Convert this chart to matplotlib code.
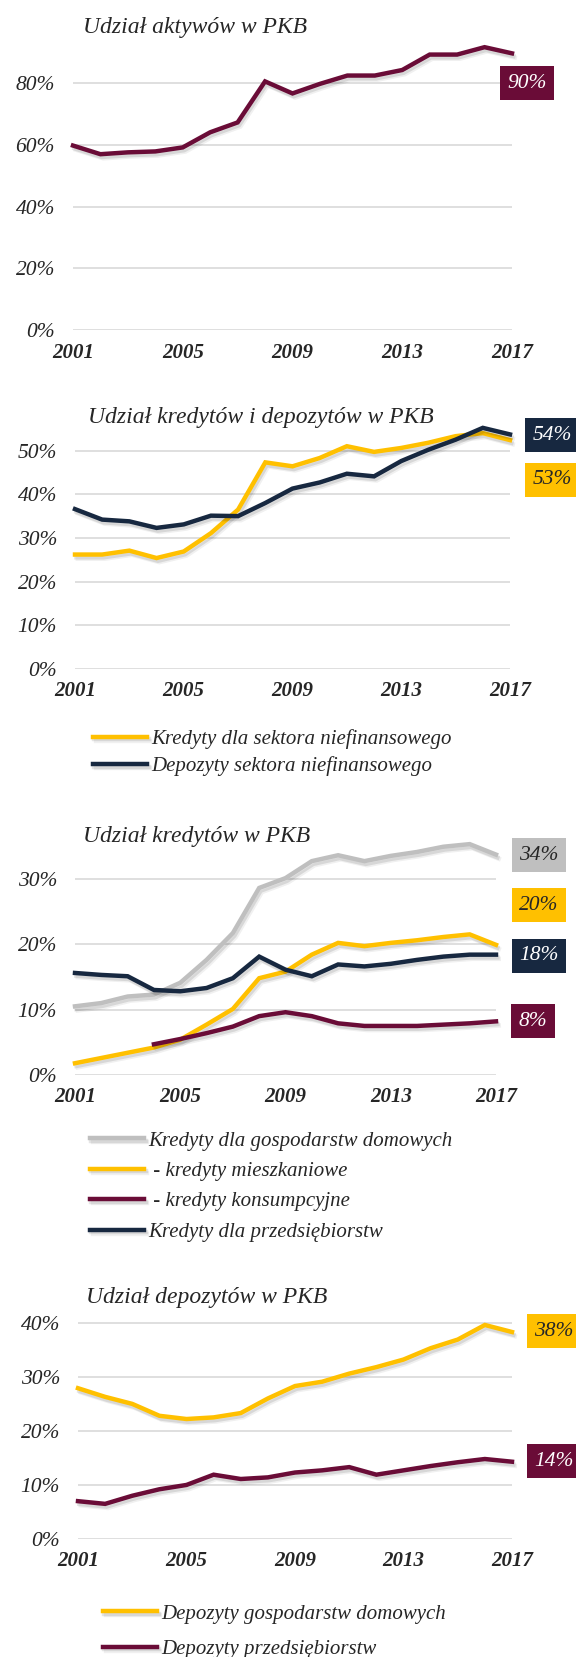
import numpy as np
import matplotlib
matplotlib.use("Agg")
import matplotlib.pyplot as plt
import matplotlib.patheffects as pe

years = list(range(2001, 2018))

# Udzial aktywow w PKB (%)
aktywa = [59.8, 57.0, 57.6, 57.9, 59.2, 64.1, 67.3, 80.6, 76.7, 79.8,
          82.5, 82.5, 84.3, 89.3, 89.3, 91.7, 89.7]

# Udzial kredytow i depozytow w PKB (%)
kredyty_niefin = [26.2, 26.2, 27.1, 25.4, 26.9, 31.1, 36.5, 47.3, 46.4, 48.3,
                  51.0, 49.7, 50.6, 51.8, 53.3, 54.0, 52.4]
depozyty_niefin = [36.6, 34.2, 33.8, 32.3, 33.1, 35.1, 35.0, 38.0, 41.3, 42.7,
                   44.7, 44.1, 47.6, 50.2, 52.5, 55.2, 53.7]

# Udzial kredytow w PKB (%)
kred_gosp = [10.5, 11.0, 12.0, 12.3, 14.1, 17.6, 21.7, 28.6, 30.1, 32.7,
             33.6, 32.7, 33.5, 34.1, 34.9, 35.3, 33.7]
kred_mieszk = [1.8, 2.6, 3.4, 4.2, 5.4, 7.7, 10.1, 14.8, 15.8, 18.4,
               20.2, 19.7, 20.2, 20.6, 21.1, 21.5, 19.9]
years_konsump = list(range(2004, 2018))
kred_konsump = [4.7, 5.5, 6.4, 7.4, 9.0, 9.6, 9.0, 7.9, 7.5, 7.5,
                7.5, 7.7, 7.9, 8.2]
kred_przeds = [15.6, 15.3, 15.1, 13.0, 12.8, 13.3, 14.8, 18.1, 16.1, 15.1,
               16.9, 16.6, 17.0, 17.6, 18.1, 18.4, 18.4]

# Udzial depozytow w PKB (%)
dep_gosp = [27.9, 26.3, 25.0, 22.8, 22.2, 22.5, 23.3, 26.0, 28.3, 29.1,
            30.6, 31.8, 33.2, 35.3, 36.9, 39.6, 38.3]
dep_przeds = [7.0, 6.5, 8.0, 9.2, 10.0, 11.9, 11.1, 11.4, 12.3, 12.7,
              13.3, 11.9, 12.7, 13.5, 14.2, 14.8, 14.3]

xticks = [2001, 2005, 2009, 2013, 2017]

MAROON = "#6A0C37"
NAVY = "#172840"
YELLOW = "#FFC000"
GREY = "#BFBFBF"
TXT = "#262626"

W, H = 576, 1657
fig = plt.figure(figsize=(W / 100, H / 100), dpi=100)
fig.patch.set_facecolor("white")

SERIF = ["Liberation Serif", "DejaVu Serif"]
# soft drop shadow like the original
shadow = [pe.SimpleLineShadow(offset=(1.0, -2.0), shadow_color="black", alpha=0.10),
          pe.SimpleLineShadow(offset=(2.0, -3.0), shadow_color="black", alpha=0.06),
          pe.Normal()]


def px_axes(left, top, right, bottom):
    return fig.add_axes([left / W, 1 - bottom / H, (right - left) / W, (bottom - top) / H])


def style(ax, ymax, yticks):
    ax.set_xlim(2001, 2017)
    ax.set_ylim(0, ymax)
    ax.set_yticks(yticks)
    ax.set_yticklabels([f"{t}%" for t in yticks], family=SERIF, style="italic",
                       fontsize=15.5, color=TXT)
    ax.set_xticks(xticks)
    ax.set_xticklabels([str(t) for t in xticks], family=SERIF, style="italic",
                       fontsize=15, color=TXT, fontweight="bold")
    ax.tick_params(length=0)
    ax.tick_params(axis="y", pad=13)
    ax.tick_params(axis="x", pad=9)
    for s in ax.spines.values():
        s.set_visible(False)
    ax.grid(axis="y", color="#D9D9D9", linewidth=1.2)
    ax.set_axisbelow(True)


def title(x, y, s):
    fig.text(x / W, 1 - y / H, s, family=SERIF, style="italic", fontsize=17,
             color=TXT, va="center", ha="left")


def badge(x, y, s, bg, fg):
    fig.text(x / W, 1 - y / H, s, family=SERIF, style="italic", fontsize=15.5,
             color=fg, va="center", ha="center",
             bbox=dict(boxstyle="square,pad=0.36", facecolor=bg, edgecolor="none"))


def line(ax, x, y, c, label=None):
    ax.plot(x, y, color=c, linewidth=3.2, solid_joinstyle="miter",
            path_effects=shadow, clip_on=False, label=label)


def legend(ax, x, y, spacing):
    leg = ax.legend(loc="upper left", bbox_to_anchor=(x / W, 1 - y / H),
                    bbox_transform=fig.transFigure, frameon=False,
                    handlelength=2.6, handletextpad=0.2, labelspacing=spacing,
                    borderpad=0, borderaxespad=0,
                    prop=dict(family=SERIF, style="italic", size=15))
    for t in leg.get_texts():
        t.set_color(TXT)


# panel 1
ax1 = px_axes(73, 37, 512, 330)
style(ax1, 95, [0, 20, 40, 60, 80])
line(ax1, years, aktywa, MAROON)
title(83, 28, "Udział aktywów w PKB")
badge(527, 83, "90%", MAROON, "white")

# panel 2
ax2 = px_axes(75, 420, 510, 669)
style(ax2, 57, [0, 10, 20, 30, 40, 50])
line(ax2, years, kredyty_niefin, YELLOW, "Kredyty dla sektora niefinansowego")
line(ax2, years, depozyty_niefin, NAVY, "Depozyty sektora niefinansowego")
title(88, 418, "Udział kredytów i depozytów w PKB")
badge(552, 435, "54%", NAVY, "white")
badge(552, 480, "53%", YELLOW, TXT)
legend(ax2, 93, 729, 0.35)

# panel 3
ax3 = px_axes(75, 833, 496, 1075)
style(ax3, 37, [0, 10, 20, 30])
line(ax3, years, kred_gosp, GREY, "Kredyty dla gospodarstw domowych")
line(ax3, years, kred_mieszk, YELLOW, " - kredyty mieszkaniowe")
line(ax3, years_konsump, kred_konsump, MAROON, " - kredyty konsumpcyjne")
line(ax3, years, kred_przeds, NAVY, "Kredyty dla przedsiębiorstw")
title(83, 837, "Udział kredytów w PKB")
badge(539, 855, "34%", GREY, TXT)
badge(539, 905, "20%", YELLOW, TXT)
badge(539, 956, "18%", NAVY, "white")
badge(533, 1021, "8%", MAROON, "white")
legend(ax3, 90, 1131, 0.52)

# panel 4
ax4 = px_axes(78, 1312, 512, 1539)
style(ax4, 42, [0, 10, 20, 30, 40])
line(ax4, years, dep_gosp, YELLOW, "Depozyty gospodarstw domowych")
line(ax4, years, dep_przeds, MAROON, "Depozyty przedsiębiorstw")
title(86, 1297, "Udział depozytów w PKB")
badge(554, 1331, "38%", YELLOW, TXT)
badge(554, 1461, "14%", MAROON, "white")
legend(ax4, 103, 1604, 0.75)

fig.savefig("out.png", dpi=100, facecolor="white")
